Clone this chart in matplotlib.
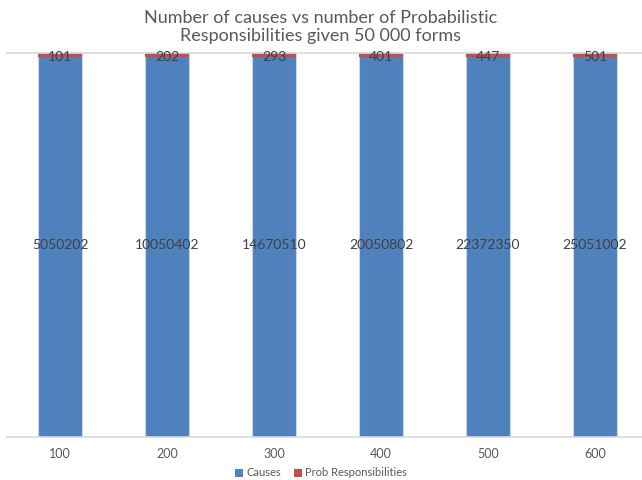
import matplotlib
matplotlib.use('Agg')
import matplotlib.pyplot as plt
import numpy as np

plt.rcParams['font.family'] = ['Lato', 'DejaVu Sans']

# categories and series
categories = ['100', '200', '300', '400', '500', '600']
causes = [5050202, 10050402, 14670510, 20050802, 22372350, 25051002]
probResp = [101, 202, 293, 401, 447, 501]

blue = '#4f81bd'
red = '#c0504d'
grey = '#595959'

causesArr = np.array(causes, dtype=float)
respArr = np.array(probResp, dtype=float)
total = causesArr + respArr
causesShare = causesArr / total
respShare = respArr / total

fig = plt.figure(figsize=(6.42, 4.8), dpi=100)
ax = fig.add_axes([6.5 / 642, 1 - 437 / 480, 642 / 642, 384 / 480])

x = np.arange(len(categories))
width = 0.41

barsC = ax.bar(x, causesShare, width, color=blue, edgecolor='#c9d7ea', linewidth=0.8,
               label='Causes', zorder=2)
# tiny segment: thick red edge (half clipped by the axes) keeps it visible like the original
barsR = ax.bar(x, respShare, width, bottom=causesShare, color=red, edgecolor=red,
               linewidth=6, label='Prob Responsibilities', zorder=3)

for i in range(len(categories)):
    ax.text(x[i], causesShare[i] / 2, str(causes[i]), ha='center', va='center',
            fontsize=10, color='#404040', zorder=6)
    ax.text(x[i], causesShare[i] + respShare[i] / 2 - 0.01, str(probResp[i]), ha='center',
            va='center', fontsize=10, color='#404040', zorder=6)

ax.set_xlim(-0.5, len(categories) - 0.5)
ax.set_ylim(0, 1)
ax.axhline(1.0, color='#d9d9d9', linewidth=1.2, zorder=5, clip_on=False)
ax.set_yticks([])
ax.set_xticks(x)
ax.set_xticklabels(categories, fontsize=9, color=grey)
ax.tick_params(axis='x', length=0, pad=8)
for side in ['left', 'right', 'top']:
    ax.spines[side].set_visible(False)
ax.spines['bottom'].set_color('#d9d9d9')
ax.spines['bottom'].set_linewidth(1.2)

fig.text(0.5, 1 - 27 / 480, 'Number of causes vs number of Probabilistic\nResponsibilities given 50 000 forms',
         ha='center', va='center', fontsize=13, color=grey, linespacing=1.2)

leg = fig.legend(handles=[barsC, barsR], loc='center', bbox_to_anchor=(0.5, 1 - 473 / 480),
                 ncol=2, frameon=False, fontsize=8, handlelength=0.7, handleheight=0.7,
                 handletextpad=0.3, columnspacing=1.2)
for t in leg.get_texts():
    t.set_color(grey)
for h in leg.legend_handles:
    h.set_linewidth(0)

fig.savefig('out.png', dpi=100)
